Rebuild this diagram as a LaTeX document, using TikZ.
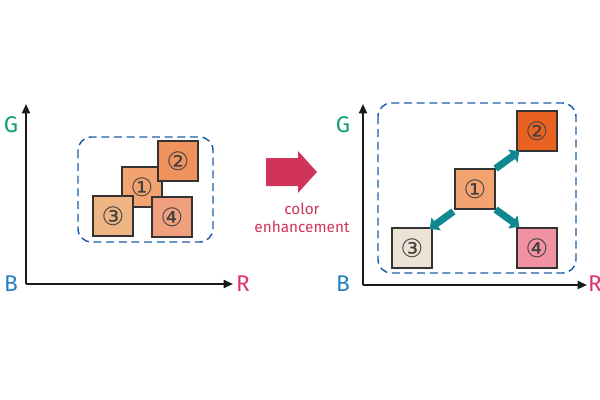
\documentclass[tikz,border=0pt]{standalone}
\usepackage{fontspec}
\setmainfont{Fira Sans}
\newfontfamily\cnumfont{DejaVu Sans}
\usetikzlibrary{arrows.meta,shapes.arrows}
\definecolor{cG}{HTML}{10A070}
\definecolor{cB}{HTML}{2080C0}
\definecolor{cR}{HTML}{E03070}
\definecolor{crim}{HTML}{D0345A}
\definecolor{teal}{HTML}{108890}
\definecolor{dbl}{HTML}{1A5CA8}
\begin{document}
\begin{tikzpicture}[x=0.75pt,y=-0.75pt,
  sq/.style={draw=black!80,line width=0.9pt,minimum size=30pt,inner sep=0pt,font=\cnumfont\fontsize{19}{19}\selectfont,text=black!75},
  ax/.style={line width=1.4pt,black!90,-{Triangle[length=7pt,width=6pt]}},
  lab/.style={font=\fontsize{17}{17}\selectfont},
  dbox/.style={draw=dbl,line width=1.1pt,dash pattern=on 6pt off 3.5pt,rounded corners=10pt},
  tar/.style={draw=none,fill=teal,single arrow,minimum height=22pt,single arrow head extend=3pt,minimum width=12pt,inner sep=2.2pt}]
\useasboundingbox (0,0) rectangle (600,400);
% left
\coordinate (o1) at (26,284); \coordinate (gy1) at (26,104); \coordinate (rx1) at (233,284);
\draw[ax] (o1) -- (gy1); \draw[ax] (o1) -- (rx1);
\node[lab,text=cG] (G1) at (11,125) {G};
\node[lab,text=cB] (B1) at (11,284) {B};
\node[lab,text=cR] (R1) at (243,284) {R};
\draw[dbox] (78,137) rectangle (213,242);
\node[sq,fill={rgb,255:red,242;green,163;blue,112}] (a1) at (142,187) {①};
\node[sq,fill={rgb,255:red,240;green,146;blue,92}] (a2) at (178,161) {②};
\node[sq,fill={rgb,255:red,237;green,180;blue,132}] (a3) at (113,216) {③};
\node[sq,fill={rgb,255:red,240;green,160;blue,126}] (a4) at (172,217) {④};
% big arrow
\fill[crim] (266,158) -- (298,158) -- (298,151) -- (317,172) -- (298,193) -- (298,186) -- (266,186) -- cycle;
\node[text=crim,font=\fontsize{11.5}{14}\selectfont,align=center] (ce) at (302,218) {color\\enhancement};
% right
\coordinate (o2) at (363,285); \coordinate (gy2) at (363,104); \coordinate (rx2) at (587,285);
\draw[ax] (o2) -- (gy2); \draw[ax] (o2) -- (rx2);
\node[lab,text=cG] (G2) at (343,125) {G};
\node[lab,text=cB] (B2) at (343,284) {B};
\node[lab,text=cR] (R2) at (595,284) {R};
\draw[dbox] (378,103) rectangle (576,273);
\node[sq,fill={rgb,255:red,242;green,163;blue,112}] (b1) at (475,189) {①};
\node[sq,fill={rgb,255:red,234;green,98;blue,34}] (b2) at (537,131) {②};
\node[sq,fill={rgb,255:red,237;green,227;blue,213}] (b3) at (412,248) {③};
\node[sq,fill={rgb,255:red,240;green,146;blue,162}] (b4) at (537,248) {④};
\node[tar,rotate=36] (t2) at (506,161) {};
\node[tar,rotate=-144] (t3) at (443,219) {};
\node[tar,rotate=-36] (t4) at (506,217) {};
\end{tikzpicture}
\end{document}
